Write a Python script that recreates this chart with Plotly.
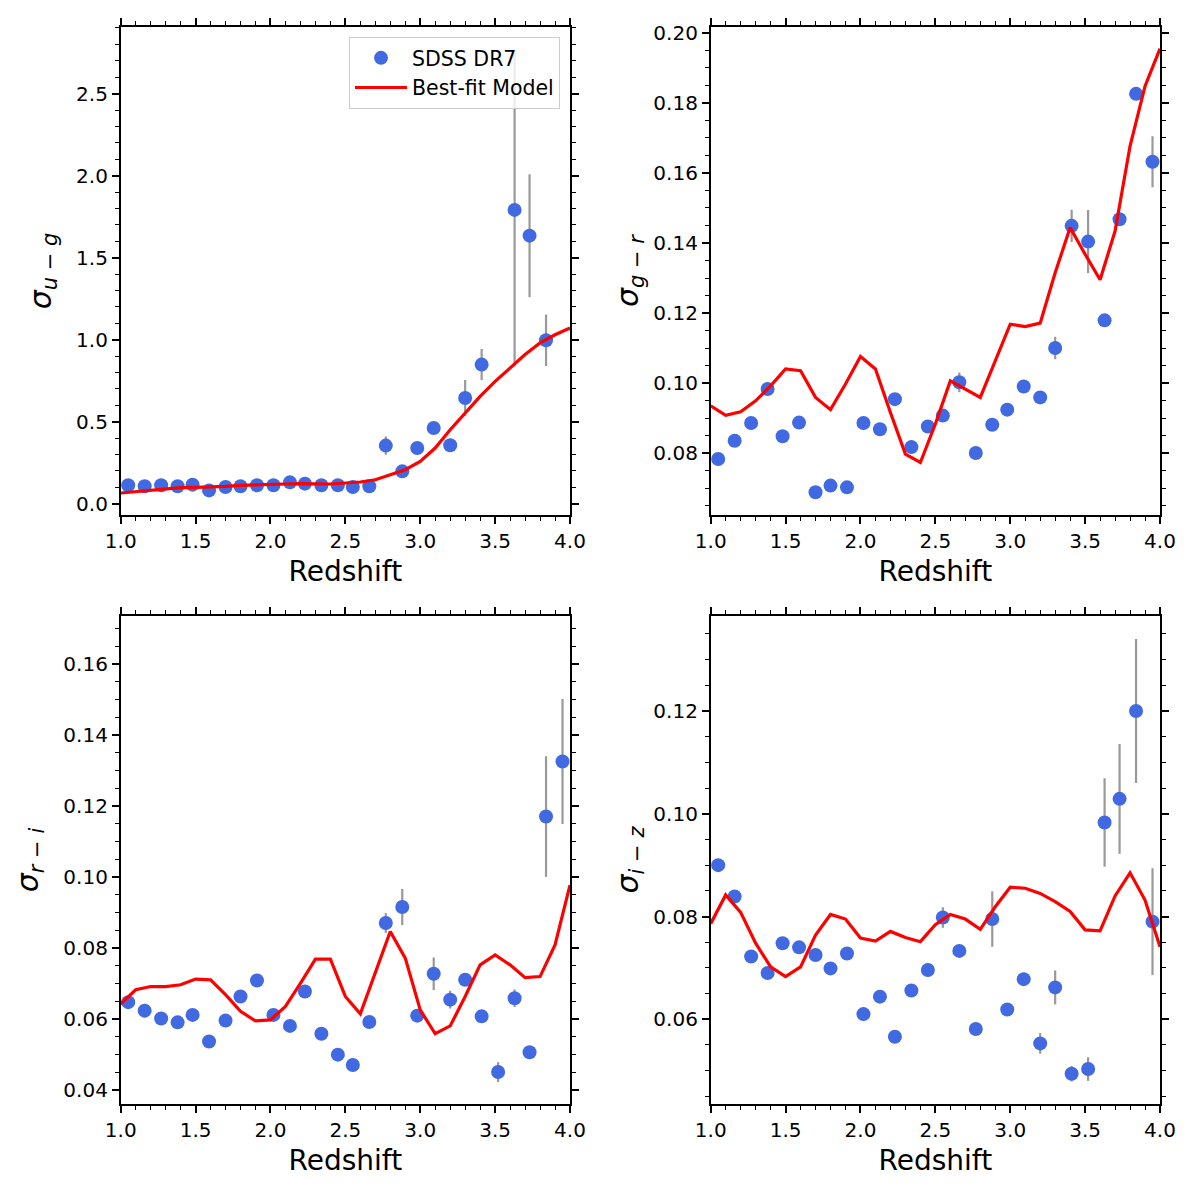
import plotly.graph_objects as go

# ---------------- data ----------------
z_data = [1.05, 1.16, 1.27, 1.38, 1.48, 1.59, 1.70, 1.80, 1.91, 2.02, 2.13, 2.23, 2.34, 2.45,
          2.55, 2.66, 2.77, 2.88, 2.98, 3.09, 3.20, 3.30, 3.41, 3.52, 3.63, 3.73, 3.84, 3.95]
z_model = [1.0, 1.1, 1.2, 1.3, 1.4, 1.5, 1.6, 1.7, 1.8, 1.9, 2.0, 2.1, 2.2, 2.3, 2.4, 2.5,
           2.6, 2.7, 2.8, 2.9, 3.0, 3.1, 3.2, 3.3, 3.4, 3.5, 3.6, 3.7, 3.8, 3.9, 4.0]

ug_data = [0.112, 0.106, 0.112, 0.106, 0.116, 0.081, 0.102, 0.106, 0.112, 0.112, 0.130, 0.122,
           0.112, 0.112, 0.102, 0.106, 0.354, 0.197, 0.339, 0.461, 0.356, 0.644, 0.848, None,
           1.791, 1.634, 0.996, None]
ug_err = [0, 0, 0, 0, 0, 0, 0, 0, 0, 0, 0, 0, 0, 0, 0, 0, 0.056, 0, 0, 0, 0, 0.11, 0.095, 0,
          0.954, 0.375, 0.157, 0]
ug_model = [0.065, 0.073, 0.081, 0.091, 0.098, 0.100, 0.102, 0.106, 0.112, 0.116, 0.120, 0.120,
            0.122, 0.120, 0.120, 0.126, 0.132, 0.146, 0.177, 0.207, 0.258, 0.339, 0.451, 0.553,
            0.654, 0.746, 0.827, 0.909, 0.980, 1.030, 1.071]

gr_data = [0.0783, 0.0835, 0.0886, 0.0983, 0.0848, 0.0887, 0.0688, 0.0707, 0.0702, 0.0886,
           0.0868, 0.0954, 0.0817, 0.0876, 0.0907, 0.1002, 0.0800, 0.0881, 0.0924, 0.0990,
           0.0959, 0.1100, 0.1449, 0.1404, 0.1179, 0.1468, 0.1826, 0.1632]
gr_err = [0, 0, 0, 0, 0, 0, 0, 0, 0, 0, 0, 0, 0, 0, 0, 0.0028, 0, 0, 0, 0, 0, 0.0032, 0.0046,
          0.009, 0, 0, 0, 0.0073]
gr_model = [0.0935, 0.0908, 0.0918, 0.0949, 0.0992, 0.1040, 0.1035, 0.0959, 0.0924, 0.0997,
            0.1076, 0.1040, 0.0916, 0.0797, 0.0773, 0.0883, 0.1006, 0.0983, 0.0959, 0.1063,
            0.1168, 0.1161, 0.1171, 0.1315, 0.1444, 0.1368, 0.1295, 0.1434, 0.1677, 0.1848,
            0.1955]

ri_data = [0.0647, 0.0623, 0.0601, 0.0590, 0.0611, 0.0536, 0.0595, 0.0663, 0.0708, 0.0611,
           0.0580, 0.0677, 0.0558, 0.0499, 0.0470, 0.0591, 0.0870, 0.0915, 0.0609, 0.0727,
           0.0654, 0.0710, 0.0607, 0.0450, 0.0658, 0.0506, 0.1170, 0.1325]
ri_err = [0, 0, 0, 0, 0, 0, 0, 0, 0, 0, 0, 0, 0, 0, 0, 0, 0.0028, 0.0051, 0, 0.0046, 0.0025,
          0, 0, 0.0028, 0.0025, 0, 0.017, 0.0176]
ri_model = [0.0642, 0.0682, 0.0691, 0.0691, 0.0696, 0.0712, 0.0710, 0.0668, 0.0621, 0.0594,
            0.0597, 0.0635, 0.0700, 0.0768, 0.0768, 0.0663, 0.0614, 0.0729, 0.0846, 0.0771,
            0.0625, 0.0558, 0.0580, 0.0663, 0.0752, 0.0780, 0.0752, 0.0716, 0.0719, 0.0808,
            0.0977]

iz_data = [0.0900, 0.0839, 0.0722, 0.0690, 0.0748, 0.0740, 0.0725, 0.0699, 0.0728, 0.0610,
           0.0644, 0.0566, 0.0656, 0.0696, 0.0798, 0.0733, 0.0581, 0.0795, 0.0619, 0.0678,
           0.0553, 0.0662, 0.0494, 0.0503, 0.0983, 0.1029, 0.1200, 0.0790]
iz_err = [0, 0, 0, 0, 0, 0, 0, 0, 0, 0, 0, 0, 0, 0, 0.002, 0, 0, 0.0054, 0, 0, 0.002, 0.0033,
          0.0015, 0.0023, 0.0086, 0.0107, 0.014, 0.0104]
iz_model = [0.0786, 0.0842, 0.0808, 0.0748, 0.0702, 0.0683, 0.0702, 0.0764, 0.0804, 0.0795,
            0.0758, 0.0752, 0.0771, 0.0759, 0.0751, 0.0784, 0.0804, 0.0795, 0.0775, 0.0819,
            0.0857, 0.0855, 0.0845, 0.0829, 0.0810, 0.0774, 0.0772, 0.0840, 0.0885, 0.0832,
            0.0741]

x_ticks = [1.0, 1.5, 2.0, 2.5, 3.0, 3.5, 4.0]
x_ticklabels = ["1.0", "1.5", "2.0", "2.5", "3.0", "3.5", "4.0"]

panels = [
    dict(data=ug_data, err=ug_err, model=ug_model,
         title="<i>σ</i><sub><i>u</i> − <i>g</i></sub>",
         yrange=[-0.069, 2.906], ytickvals=[0.0, 0.5, 1.0, 1.5, 2.0, 2.5],
         yticktext=["0.0", "0.5", "1.0", "1.5", "2.0", "2.5"], yminor=0.1),
    dict(data=gr_data, err=gr_err, model=gr_model,
         title="<i>σ</i><sub><i>g</i> − <i>r</i></sub>",
         yrange=[0.0623, 0.2017], ytickvals=[0.08, 0.10, 0.12, 0.14, 0.16, 0.18, 0.20],
         yticktext=["0.08", "0.10", "0.12", "0.14", "0.16", "0.18", "0.20"], yminor=0.005),
    dict(data=ri_data, err=ri_err, model=ri_model,
         title="<i>σ</i><sub><i>r</i> − <i>i</i></sub>",
         yrange=[0.036, 0.1735], ytickvals=[0.04, 0.06, 0.08, 0.10, 0.12, 0.14, 0.16],
         yticktext=["0.04", "0.06", "0.08", "0.10", "0.12", "0.14", "0.16"], yminor=0.005),
    dict(data=iz_data, err=iz_err, model=iz_model,
         title="<i>σ</i><sub><i>i</i> − <i>z</i></sub>",
         yrange=[0.0435, 0.1385], ytickvals=[0.06, 0.08, 0.10, 0.12],
         yticktext=["0.06", "0.08", "0.10", "0.12"], yminor=0.005),
]

W = H = 1200
xdoms = [[120.7 / W, 570 / W], [710.7 / W, 1160 / W]]
ydoms = [[1 - 515 / H, 1 - 27 / H], [1 - 1104 / H, 1 - 616 / H]]
ystandoff = [16, 6]

FONT = "DejaVu Sans"
fig = go.Figure()
layout = dict(
    width=W, height=H, margin=dict(l=0, r=0, t=0, b=0, autoexpand=False),
    plot_bgcolor="white", paper_bgcolor="white",
    font=dict(family=FONT, size=20, color="black"),
    showlegend=True,
    legend=dict(x=560 / W, y=1 - 37 / H, xanchor="right", yanchor="top",
                bgcolor="rgba(255,255,255,0.8)", bordercolor="#cccccc", borderwidth=1,
                font=dict(family=FONT, size=20.5), itemwidth=52, tracegroupgap=2),
)

for k, p in enumerate(panels):
    r, c = divmod(k, 2)
    xa = "x" if k == 0 else f"x{k + 1}"
    ya = "y" if k == 0 else f"y{k + 1}"
    fig.add_trace(go.Scatter(
        x=z_data, y=p["data"], mode="markers", name="SDSS DR7",
        marker=dict(color="#4169E1", size=14),
        error_y=dict(type="data", array=p["err"], visible=True, color="#999999",
                     thickness=2.2, width=0),
        xaxis=xa, yaxis=ya, showlegend=(k == 0)))
    fig.add_trace(go.Scatter(
        x=z_model, y=p["model"], mode="lines", name="Best-fit Model",
        line=dict(color="red", width=3.2),
        xaxis=xa, yaxis=ya, showlegend=(k == 0)))

    axcommon = dict(showline=True, linecolor="black", linewidth=1.6, mirror="allticks",
                    ticks="outside", ticklen=7, tickwidth=1.6, tickcolor="black",
                    showgrid=False, zeroline=False, automargin=False,
                    tickfont=dict(family=FONT, size=20, color="black"))
    layout["xaxis" + ("" if k == 0 else str(k + 1))] = dict(
        axcommon, domain=xdoms[c], anchor=ya, range=[1.0, 4.0],
        tickvals=x_ticks, ticktext=x_ticklabels,
        minor=dict(ticks="outside", ticklen=4, tickwidth=1.2, tickcolor="black", dtick=0.1,
                   tick0=1.0, showgrid=False),
        title=dict(text="Redshift", font=dict(family=FONT, size=28), standoff=10))
    layout["yaxis" + ("" if k == 0 else str(k + 1))] = dict(
        axcommon, domain=ydoms[r], anchor=xa, range=p["yrange"],
        tickvals=p["ytickvals"], ticktext=p["yticktext"],
        minor=dict(ticks="outside", ticklen=4, tickwidth=1.2, tickcolor="black",
                   dtick=p["yminor"], tick0=0, showgrid=False),
        title=dict(text=p["title"], font=dict(family=FONT, size=30), standoff=ystandoff[c]))

fig.update_layout(**layout)
fig.write_html("out.html")
